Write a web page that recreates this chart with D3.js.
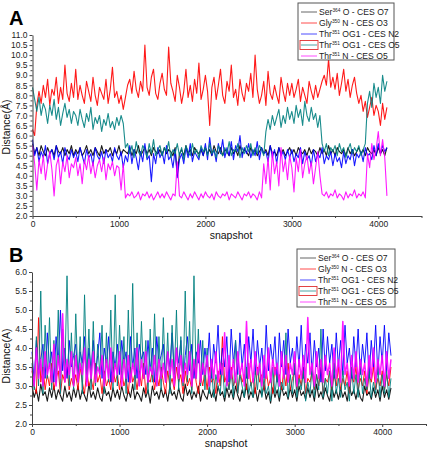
<!DOCTYPE html>
<html><head><meta charset="utf-8">
<script src="https://cdn.jsdelivr.net/npm/d3@7"></script>
<style>
body{margin:0;background:#fff;}
svg{display:block;font-family:Arial,"Liberation Sans",sans-serif;}
</style></head>
<body><svg id="c" width="430" height="451"></svg>
<script>
// ---- data ----
const snapStep = 25; // snapshots between samples
const legendLabels = [
  ["Ser","364"," O - CES O7"],
  ["Gly","350"," N - CES O3"],
  ["Thr","351"," OG1 - CES N2"],
  ["Thr","351"," OG1 - CES O5"],
  ["Thr","351"," N - CES O5"]
];
const xTicks = [0,1000,2000,3000,4000];
const yTicksA = [2.0,2.5,3.0,3.5,4.0,4.5,5.0,5.5,6.0,6.5,7.0,7.5,8.0,8.5,9.0,9.5,10.0,10.5,11.0];
const yTicksB = [2.0,2.5,3.0,3.5,4.0,4.5,5.0,5.5,6.0];

// Panel A
const aSer = [5.6,5.1,5.4,5.0,5.5,5.2,5.0,5.4,5.1,5.3,5.0,5.5,5.2,5.1,5.4,5.0,5.3,5.1,5.5,5.0,
 5.3,5.1,5.4,5.0,5.2,5.5,5.1,5.3,5.0,5.4,5.2,5.0,5.5,5.1,5.3,5.2,5.4,5.0,5.3,5.1,
 5.5,5.0,5.3,5.2,5.1,5.4,5.0,5.3,5.1,5.5,5.0,5.2,5.4,5.1,5.3,5.0,5.4,5.2,5.1,5.3,
 5.0,5.4,5.1,5.3,5.2,5.0,5.4,4.0,5.1,5.3,5.0,5.5,5.1,5.3,5.0,5.4,5.2,5.1,5.3,5.0,
 5.4,5.1,5.3,5.0,5.5,5.2,5.1,5.4,5.0,5.3,5.2,5.0,5.4,5.1,5.3,5.0,5.5,5.1,5.3,5.2,
 5.0,5.4,5.1,5.3,5.0,5.2,5.4,5.1,5.3,5.0,5.5,5.1,5.2,5.0,5.4,5.1,5.3,5.0,5.2,5.4,
 5.1,5.3,5.0,5.4,5.2,5.1,5.3,5.0,5.4,5.1,5.3,5.2,5.0,5.4,5.1,5.3,5.0,5.5,5.1,5.3,
 5.0,5.4,5.2,5.1,5.3,5.0,5.4,5.1,5.3,5.0,5.2,5.4,5.1,5.3,5.0,5.4,5.2,5.1,5.3,5.0,
 5.4,5.1,5.3,5.0,5.4];
const aGly = [6.3,6.0,7.5,8.2,7.6,8.5,7.9,8.8,7.5,8.3,8.0,8.9,7.6,8.4,7.8,9.5,8.1,7.7,8.6,7.9,
 9.3,7.8,8.5,8.0,7.6,8.7,8.2,7.7,8.9,8.0,7.5,8.4,8.1,7.8,8.8,7.6,8.3,9.4,7.9,8.2,
 7.6,8.0,7.3,7.9,8.5,8.8,8.1,9.2,8.3,7.9,8.7,8.2,10.5,8.4,8.0,8.9,9.3,8.1,7.8,8.6,
 9.1,8.3,8.0,10.4,8.6,8.2,7.7,9.0,8.4,7.6,8.2,9.3,7.9,8.5,7.7,8.8,8.1,9.6,7.8,8.3,
 9.0,8.2,6.5,8.4,8.9,7.8,8.5,9.3,8.0,7.6,8.7,8.2,9.5,7.9,8.3,7.5,8.8,8.1,7.7,8.6,
 8.2,9.1,7.9,10.0,8.3,7.6,8.0,8.7,7.5,9.2,8.1,7.8,8.5,8.0,7.6,8.9,8.2,7.7,8.6,8.0,
 8.6,7.9,8.3,8.8,7.7,8.4,8.0,7.6,8.7,8.2,7.8,8.5,7.9,8.3,8.7,9.0,8.5,9.8,8.4,8.9,
 8.3,9.1,8.0,8.6,9.3,8.2,8.8,7.9,8.5,8.9,8.1,7.6,8.0,7.2,7.7,6.9,7.4,7.9,7.0,7.5,
 7.2,6.5,7.6,6.8,7.4];
const aThrOG1N2 = [5.8,5.0,5.4,4.7,5.2,4.9,5.5,4.6,5.1,5.3,4.8,5.5,4.9,5.2,4.6,5.4,5.0,4.8,5.3,4.9,
 5.2,4.7,5.4,5.0,4.6,5.3,4.9,5.1,4.5,5.4,5.0,4.8,5.2,4.6,5.3,4.9,5.1,4.7,5.4,5.0,
 4.8,5.2,4.4,5.0,4.7,5.5,4.6,5.3,4.9,4.3,5.2,4.7,5.6,4.8,5.0,3.7,5.1,4.6,5.4,4.9,
 5.2,4.6,5.5,4.8,5.0,4.4,5.3,3.9,4.8,5.1,4.6,5.4,4.9,5.6,4.7,5.2,5.0,4.8,5.4,5.0,
 5.6,4.8,5.9,5.0,5.3,4.7,5.6,5.1,5.8,4.9,5.4,5.0,5.7,4.8,5.5,5.2,6.0,4.9,5.4,5.1,
 5.6,4.9,5.3,5.0,5.7,4.8,5.4,5.1,5.2,4.7,5.5,4.9,5.3,4.6,5.4,5.0,5.2,4.8,5.3,4.9,
 5.3,4.7,5.1,4.9,5.4,4.6,5.2,4.8,5.0,4.5,5.3,4.7,5.1,4.9,5.4,4.6,5.0,4.8,5.2,4.5,
 5.1,4.7,4.9,4.4,5.2,4.6,5.0,4.8,5.3,4.5,5.1,4.9,5.2,4.7,5.4,5.0,5.1,4.8,5.5,5.0,
 5.6,5.1,5.5,5.2,5.4];
const aThrOG1O5 = [8.4,7.8,7.2,7.9,7.0,7.6,7.3,6.6,7.5,7.0,7.8,6.8,7.4,6.5,7.1,7.6,6.9,7.3,6.6,7.2,
 7.0,6.5,7.3,6.8,6.4,7.1,6.7,7.4,6.3,6.9,6.6,7.0,6.2,6.8,6.5,7.1,6.4,6.7,6.3,6.9,
 6.5,7.0,6.6,5.4,5.6,5.1,5.5,4.9,5.7,5.2,5.0,5.5,5.3,4.9,5.6,5.1,5.8,5.0,5.3,5.5,
 5.0,5.4,5.2,5.7,4.9,5.3,5.1,5.6,5.0,5.4,4.8,5.5,5.2,5.0,5.6,5.1,5.3,4.9,5.5,5.2,
 5.4,5.0,5.6,5.1,5.3,4.9,5.5,5.2,5.0,5.4,5.1,5.7,5.0,5.3,5.2,5.6,4.9,5.4,5.1,5.5,
 5.2,5.6,5.0,5.4,5.1,5.5,5.3,5.0,6.2,6.8,6.3,7.0,6.5,6.9,7.3,6.4,7.0,6.6,7.4,6.8,
 7.2,6.6,7.5,6.9,7.3,6.5,7.7,7.0,6.7,7.4,6.8,7.1,6.4,7.0,5.6,5.2,5.6,5.0,5.4,5.2,
 5.5,5.0,5.6,5.2,5.4,4.9,5.3,5.6,5.1,5.4,5.2,5.5,5.0,5.3,5.6,7.6,8.2,7.4,8.6,7.9,
 8.4,7.6,9.0,8.2,8.7];
const aThrN = [5.5,4.6,3.3,4.8,4.1,5.0,3.8,4.6,5.2,4.3,3.0,4.5,4.9,3.6,4.7,4.2,5.0,3.9,4.6,4.4,
 4.9,4.0,4.6,3.6,4.8,4.3,5.0,4.1,4.7,3.9,4.5,4.8,4.2,4.9,3.8,4.6,4.3,4.7,4.0,4.5,
 4.4,3.3,4.6,2.9,3.1,3.0,3.2,2.9,3.0,3.2,2.8,3.1,3.0,3.2,2.9,3.1,2.8,3.0,3.2,2.9,
 3.1,2.9,3.2,3.0,2.8,3.1,3.0,4.7,3.0,2.9,3.2,3.0,2.8,3.1,2.9,3.2,3.0,2.8,3.1,2.9,
 3.2,3.0,2.9,3.1,2.8,3.2,3.0,2.9,3.1,3.0,3.2,2.8,3.1,3.0,2.9,3.2,3.0,2.8,3.1,3.0,
 3.2,2.9,3.1,3.0,2.8,3.2,2.9,4.6,3.6,4.9,3.3,5.2,4.1,4.7,3.5,5.4,4.2,4.8,3.8,5.0,
 4.4,3.2,4.9,4.2,5.3,3.9,4.6,5.0,4.1,4.7,3.6,4.4,5.2,4.0,3.1,3.0,3.2,2.9,3.1,3.0,
 3.3,2.9,3.1,3.0,2.8,3.2,2.9,3.1,3.0,3.3,2.9,3.1,3.0,3.2,2.9,5.1,4.4,5.6,4.8,5.3,
 6.2,5.0,5.8,4.9,3.0];

// Panel B
const bSer = [3.0,2.7,2.9,2.6,3.05,2.75,2.85,2.6,2.95,2.7,3.0,2.65,2.9,2.75,2.6,3.0,2.7,2.85,2.6,2.95,
 2.7,3.0,2.65,2.9,2.75,2.6,3.05,2.7,2.85,2.65,2.95,2.7,2.6,3.0,2.75,2.85,2.6,2.95,2.7,2.9,
 2.65,3.0,2.75,2.6,2.9,2.7,3.05,2.65,2.85,2.75,2.6,2.95,2.7,2.9,2.55,3.0,2.75,2.85,2.65,2.95,
 2.7,2.9,2.6,3.0,2.75,2.85,2.65,2.95,2.7,2.6,3.05,2.75,2.9,2.65,2.85,2.7,3.0,2.6,2.9,2.75,
 2.65,2.95,2.7,2.9,2.6,3.0,2.75,2.85,2.6,2.95,2.7,2.9,2.65,3.0,2.75,2.6,2.9,2.7,3.05,2.65,
 2.85,2.7,2.95,2.6,2.9,2.75,3.0,2.65,2.85,2.55,2.95,2.7,2.9,2.6,3.0,2.75,2.85,2.65,2.95,2.7,
 2.9,2.6,3.0,2.75,2.85,2.65,2.95,2.7,2.9,2.6,3.05,2.7,2.85,2.65,2.95,2.75,2.6,3.0,2.7,2.9,
 2.65,2.95,2.7,2.85,2.6,3.0,2.75,2.9,2.65,2.95,2.7,2.6,3.0,2.75,2.85,2.65,2.95,2.7,2.9,2.6,
 3.0,2.7,2.9,2.65,2.95];
const bGly = [3.4,3.0,2.8,4.8,3.1,3.5,2.9,3.3,3.0,3.6,2.9,3.2,3.4,2.8,3.3,3.1,3.5,2.9,3.2,3.0,
 3.3,2.9,3.5,3.1,2.8,3.4,3.0,3.2,2.9,3.6,3.1,3.3,2.8,3.4,3.0,3.2,2.9,3.5,3.1,3.3,
 2.9,3.4,3.0,3.2,2.8,3.5,3.1,3.3,2.9,3.4,3.0,3.6,2.8,3.2,3.1,3.4,2.9,3.3,3.0,3.5,
 3.1,2.8,3.4,3.0,3.2,2.9,3.5,3.1,3.3,2.8,3.4,3.0,3.2,2.9,3.6,3.1,2.8,3.3,3.0,3.4,
 2.9,3.5,3.1,3.2,2.8,3.4,3.0,4.3,3.1,3.3,2.9,3.5,3.0,3.2,2.8,3.4,3.1,3.3,2.9,3.6,
 3.0,3.2,2.8,3.5,3.1,3.3,2.9,3.4,3.0,3.2,2.8,3.5,3.1,3.3,2.9,3.4,3.0,3.6,2.9,3.2,
 3.4,2.9,3.3,3.0,3.5,2.8,3.2,3.1,3.4,2.9,3.3,3.0,3.5,2.8,3.2,3.1,3.4,2.9,3.3,3.0,
 3.5,2.9,3.2,3.0,3.4,2.8,3.3,3.1,3.5,2.9,3.2,3.0,3.4,2.8,3.3,3.1,3.5,2.9,3.2,3.0,
 3.4,2.9,3.3,3.0,3.5];
const bThrOG1N2 = [3.9,3.1,4.2,3.3,3.7,4.1,3.2,4.4,3.5,3.9,3.1,4.3,3.6,5.0,3.4,4.0,3.2,4.2,3.5,3.8,
 4.1,3.2,3.9,3.6,4.3,3.1,4.0,3.4,4.2,3.3,3.8,4.4,3.2,4.0,3.6,4.3,3.1,3.9,3.5,4.1,
 3.3,4.2,3.6,3.9,3.1,4.3,3.5,4.0,3.2,4.1,3.7,3.9,3.3,4.2,3.4,4.0,3.1,4.3,3.6,3.8,
 4.1,3.2,3.9,3.5,4.4,3.3,4.0,3.6,4.2,3.1,3.8,4.3,3.4,4.1,3.2,3.9,3.6,4.2,3.3,4.0,
 3.5,4.4,3.2,4.1,3.6,4.6,3.3,4.0,3.5,4.3,3.1,4.5,3.6,4.2,3.3,4.4,3.5,4.1,3.2,4.3,
 3.6,4.5,3.3,4.2,3.5,4.0,3.2,4.6,3.4,4.1,3.6,4.3,3.1,4.4,3.5,4.2,3.3,4.5,3.6,4.0,
 3.3,4.3,3.5,4.6,3.2,4.1,3.6,4.4,3.3,4.2,3.5,4.0,3.1,4.5,3.4,4.3,3.6,4.1,3.2,4.4,
 3.5,4.2,3.3,4.6,3.6,4.0,3.2,4.3,3.5,4.5,3.3,4.1,3.6,4.4,3.2,4.2,3.5,4.6,3.3,4.3,
 3.6,4.6,3.4,4.4,3.8];
const bThrOG1O5 = [3.6,2.9,4.3,3.0,5.5,2.8,4.6,3.2,4.8,2.9,4.2,3.1,5.0,2.8,4.5,3.3,5.9,3.0,4.4,2.9,
 4.9,3.1,4.3,2.8,5.4,3.2,4.5,2.9,4.7,3.0,4.1,3.3,4.6,2.8,4.4,3.1,5.0,2.9,5.4,3.0,
 4.6,3.2,4.3,2.8,5.0,3.1,5.7,2.9,4.4,3.0,4.7,3.2,4.2,2.8,4.5,3.1,4.9,3.0,4.3,2.9,
 4.8,3.1,4.4,2.8,4.6,3.2,5.0,2.9,4.3,3.0,5.5,3.1,4.7,2.8,5.9,3.2,4.5,3.0,4.2,2.9,
 4.0,2.8,3.5,2.7,3.3,3.0,2.8,3.6,2.7,3.2,2.9,3.4,2.7,4.2,2.8,3.3,3.0,2.7,3.5,2.8,
 3.1,2.7,3.4,2.9,3.6,2.7,3.2,2.8,3.0,2.6,3.5,2.8,3.3,2.7,3.1,2.9,4.4,2.7,3.3,2.8,
 3.6,2.7,3.2,2.9,3.4,2.6,3.1,2.8,3.5,2.7,3.3,2.9,4.5,2.7,3.2,2.8,3.4,2.6,3.6,2.8,
 3.2,2.7,3.4,2.9,3.1,2.6,3.5,2.8,3.3,2.7,3.6,2.8,3.2,2.9,3.4,2.7,3.1,2.8,3.5,2.7,
 3.3,2.8,3.4,2.7,3.2];
const bThrN = [3.5,3.0,4.0,3.2,3.7,3.0,3.9,3.3,3.6,3.1,4.1,3.0,3.8,3.2,4.9,3.1,3.7,3.3,3.9,3.0,
 3.8,3.1,3.6,3.3,4.0,3.0,3.7,3.2,3.9,3.1,3.5,3.3,3.8,3.0,3.7,3.2,4.0,3.1,3.6,3.3,
 3.9,3.0,3.7,3.2,3.8,3.1,3.6,3.3,4.0,3.0,3.7,3.2,3.9,3.1,3.5,3.3,3.8,3.0,3.7,3.2,
 3.6,3.1,3.9,3.3,3.7,3.0,4.0,3.2,3.8,3.1,3.6,3.3,3.9,3.0,3.7,3.2,4.1,3.1,3.6,3.3,
 3.8,3.0,3.7,3.2,3.9,3.1,3.6,3.3,4.4,3.0,3.8,3.2,3.7,3.1,3.9,3.3,3.6,3.0,4.7,3.2,
 3.7,3.1,3.9,3.3,3.6,3.0,3.8,3.2,4.0,3.1,3.7,3.3,3.6,3.0,3.9,3.2,3.8,3.1,3.6,3.3,
 3.9,3.0,3.7,3.2,3.8,3.1,4.8,3.3,3.6,3.0,3.9,3.2,3.7,3.1,3.8,3.3,3.6,3.0,4.0,3.2,
 3.7,3.1,4.7,3.3,3.6,3.0,3.8,3.2,3.9,3.1,3.7,3.3,3.6,3.0,3.8,3.2,4.0,3.1,3.7,3.3,
 3.8,3.0,3.9,3.2,3.7];

const colors = ["#000000","#ff0000","#0000ff","#008080","#ff00ff"];

// ---- drawing ----
const svg = d3.select("#c");

function panel(cfg){
  const g = svg.append("g");
  const x = d3.scaleLinear().domain([0,4500]).range([cfg.x0, cfg.x1]);
  const y = d3.scaleLinear().domain(cfg.ydom).range([cfg.yb, cfg.yt]);
  const line = d3.line().x((d,i)=>x(i*snapStep)).y(d=>y(d));
  cfg.series.forEach((s,k)=>{
    g.append("path").datum(s).attr("d",line)
      .attr("fill","none").attr("stroke",colors[k])
      .attr("stroke-width",cfg.sw[k]).attr("stroke-opacity",0.9)
      .attr("stroke-linejoin","round");
  });
  // axes
  const minorY = d3.range(cfg.ydom[0]+0.25, cfg.ydom[1], 0.5);
  g.append("g").attr("transform",`translate(${cfg.x0},0)`)
    .call(d3.axisLeft(y).tickValues(minorY).tickSize(2).tickFormat("").tickSizeOuter(0))
    .call(a=>a.select(".domain").remove());
  const ya = g.append("g").attr("transform",`translate(${cfg.x0},0)`)
    .call(d3.axisLeft(y).tickValues(cfg.yTicks).tickFormat(d3.format(".1f")).tickSize(3).tickSizeOuter(0).tickPadding(2));
  g.append("g").attr("transform",`translate(0,${cfg.yb})`)
    .call(d3.axisBottom(x).tickValues([500,1500,2500,3500,4500]).tickSize(2).tickFormat("").tickSizeOuter(0))
    .call(a=>a.select(".domain").remove());
  const xa = g.append("g").attr("transform",`translate(0,${cfg.yb})`)
    .call(d3.axisBottom(x).tickValues(xTicks).tickFormat(d3.format("d")).tickSize(3).tickSizeOuter(0).tickPadding(2));
  [ya,xa].forEach(a=>{
    a.selectAll("text").attr("font-size",8.5).attr("fill","#222").attr("font-family","Arial, 'Liberation Sans', sans-serif");
    a.select(".domain").attr("stroke","#444");
  });
  g.selectAll(".tick line").attr("stroke","#444");
  // labels
  g.append("text").attr("x",cfg.xlabX).attr("y",cfg.xlabY).attr("text-anchor","middle")
    .attr("font-size",10.5).attr("fill","#111").text("snapshot");
  g.append("text").attr("transform",`translate(${cfg.ylabX},${cfg.ylabY}) rotate(-90)`)
    .attr("text-anchor","middle").attr("font-size",10.5).attr("fill","#111").text(cfg.ylab);
  g.append("text").attr("x",9).attr("y",cfg.letterY).attr("font-size",20).attr("font-weight","bold")
    .attr("fill","#000").text(cfg.letter);
  // legend
  const L = cfg.leg;
  g.append("rect").attr("x",L.x).attr("y",L.y).attr("width",L.w).attr("height",L.h)
    .attr("fill","#fff").attr("stroke","#555").attr("stroke-width",1);
  legendLabels.forEach((lab,k)=>{
    const ry = L.y + 9 + k*L.dy;
    g.append("line").attr("x1",L.x+3).attr("x2",L.x+19).attr("y1",ry).attr("y2",ry)
      .attr("stroke",colors[k]).attr("stroke-width",1).attr("stroke-opacity",k===0?0.6:0.7);
    if(k===3){
      g.append("rect").attr("x",L.x+2).attr("y",ry-4.5).attr("width",18).attr("height",9)
        .attr("fill","none").attr("stroke","#e03030").attr("stroke-width",0.9);
    }
    const t = g.append("text").attr("x",L.x+21).attr("y",ry+3).attr("font-size",8.6).attr("fill","#222");
    t.append("tspan").text(lab[0]);
    t.append("tspan").attr("font-size",4.8).attr("dy",-3.5).text(lab[1]);
    t.append("tspan").attr("dy",3.5).text(lab[2]);
  });
}

panel({x0:32.5, x1:421.5, yt:35, yb:216, ydom:[2,11], yTicks:yTicksA,
  series:[aSer,aGly,aThrOG1N2,aThrOG1O5,aThrN], sw:[1.1,1.1,1.1,1.1,1.1],
  xlabX:231, xlabY:239, ylabX:10, ylabY:127, ylab:"Distance(Å)", letter:"A", letterY:25,
  leg:{x:298, y:3, w:96, h:57, dy:11}});

panel({x0:32, x1:426, yt:272, yb:424, ydom:[2,6], yTicks:yTicksB,
  series:[bSer,bGly,bThrOG1N2,bThrOG1O5,bThrN], sw:[1.1,1.0,1.0,1.0,1.5],
  xlabX:226, xlabY:447, ylabX:10, ylabY:356, ylab:"Distance(A)", letter:"B", letterY:262,
  leg:{x:297, y:249, w:98, h:58, dy:11}});
</script>
</body></html>
